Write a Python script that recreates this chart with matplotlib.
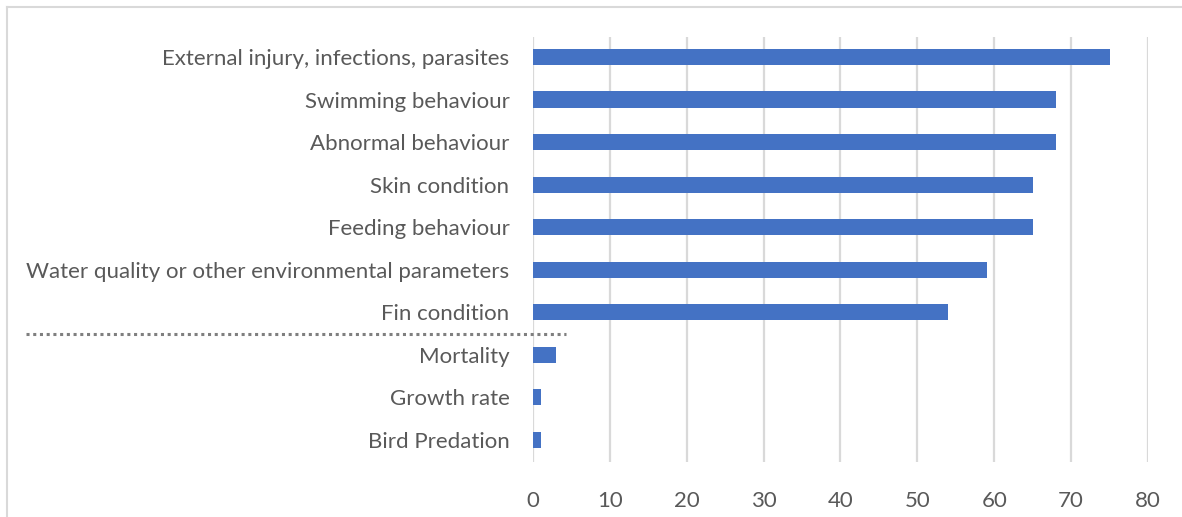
import matplotlib.pyplot as plt
from matplotlib.lines import Line2D

categories = [
    "External injury, infections, parasites",
    "Swimming behaviour",
    "Abnormal behaviour",
    "Skin condition",
    "Feeding behaviour",
    "Water quality or other environmental parameters",
    "Fin condition",
    "Mortality",
    "Growth rate",
    "Bird Predation",
]
values = [75, 68, 68, 65, 65, 59, 54, 3, 1, 1]
x_ticks = [0, 10, 20, 30, 40, 50, 60, 70, 80]

plt.rcParams['font.family'] = ['Lato', 'DejaVu Sans']

W, H = 1182, 517
fig = plt.figure(figsize=(W / 100, H / 100), dpi=100)
ax = fig.add_axes([533 / W, 1 - 462 / H, (1148 - 533) / W, (462 - 37) / H])

ypos = list(range(len(categories)))
ax.barh(ypos, values, height=0.38, color="#4472C4", zorder=3)

ax.set_xlim(0, 80)
ax.set_ylim(9.52, -0.47)
ax.set_xticks(x_ticks)
ax.set_yticks(ypos)
ax.set_yticklabels(categories)
ax.tick_params(axis="both", length=0, labelsize=16, labelcolor="#595959")
ax.tick_params(axis="x", pad=21)
ax.tick_params(axis="y", pad=17)

ax.grid(axis="x", color="#D9D9D9", linewidth=1.6, zorder=0)
for s in ax.spines.values():
    s.set_visible(False)

# dotted separator between Fin condition and Mortality
sep_y = 6.5
ax.plot([-66, 4.3], [sep_y, sep_y], linestyle=(0, (1, 1.2)), color="#7F7F7F",
        linewidth=2.2, clip_on=False, zorder=4)

# chart frame (partly cropped)
fig.add_artist(Line2D([7 / W, 1], [1 - 7 / H, 1 - 7 / H], color="#D9D9D9", linewidth=1.5))
fig.add_artist(Line2D([7 / W, 7 / W], [0, 1 - 7 / H], color="#D9D9D9", linewidth=1.5))

fig.savefig("out.png", dpi=100)
